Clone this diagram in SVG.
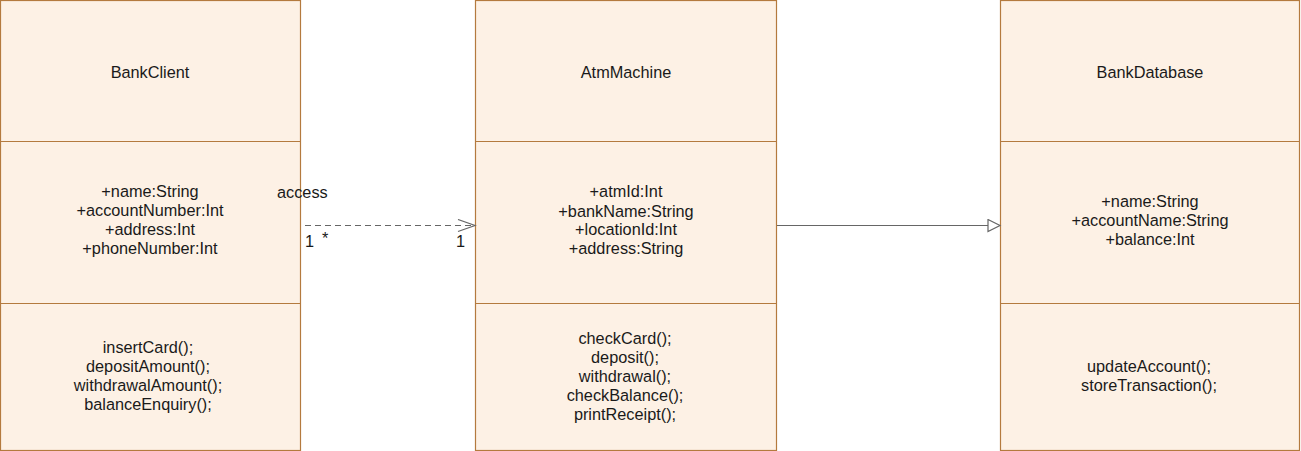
<svg xmlns="http://www.w3.org/2000/svg" width="1301" height="451" viewBox="0 0 1301 451">
<style>
.box{fill:#fdf1e5;stroke:#b47a3e;stroke-width:1.2}
.div{stroke:#b47a3e;stroke-width:1.2}
text{font-family:"Liberation Sans",Arial,sans-serif;font-size:16.3px;fill:#1a1a1a}
.c{text-anchor:middle}
.ln{stroke:#666;stroke-width:1.2;fill:none}
</style>
<defs>
<marker id="open" markerWidth="20" markerHeight="14" refX="18" refY="7" orient="auto" markerUnits="userSpaceOnUse">
<path d="M1,1 L18,7 L1,13" fill="none" stroke="#666" stroke-width="1.2"/>
</marker>
<marker id="tri" markerWidth="16" markerHeight="16" refX="13" refY="7" orient="auto" markerUnits="userSpaceOnUse">
<path d="M1,1 L13,7 L1,13 Z" fill="#fff" stroke="#666" stroke-width="1.2"/>
</marker>
</defs>
<rect width="1301" height="451" fill="#fff"/>
<g id="BankClient">
<rect class="box" x="0.5" y="0.5" width="300" height="450"/>
<line class="div" x1="0.5" y1="141.5" x2="300.5" y2="141.5"/>
<line class="div" x1="0.5" y1="303.5" x2="300.5" y2="303.5"/>
<text class="c" x="150" y="78">BankClient</text>
<text class="c" x="150" y="197">+name:String</text>
<text class="c" x="150" y="216">+accountNumber:Int</text>
<text class="c" x="150" y="235">+address:Int</text>
<text class="c" x="150" y="254">+phoneNumber:Int</text>
<text class="c" x="148" y="353">insertCard();</text>
<text class="c" x="148" y="372">depositAmount();</text>
<text class="c" x="148" y="391">withdrawalAmount();</text>
<text class="c" x="148" y="410">balanceEnquiry();</text>
</g>
<g id="AtmMachine">
<rect class="box" x="475.5" y="0.5" width="301" height="450"/>
<line class="div" x1="475.5" y1="141.5" x2="776.5" y2="141.5"/>
<line class="div" x1="475.5" y1="303.5" x2="776.5" y2="303.5"/>
<text class="c" x="626" y="78">AtmMachine</text>
<text class="c" x="626" y="197">+atmId:Int</text>
<text class="c" x="626" y="217">+bankName:String</text>
<text class="c" x="626" y="235">+locationId:Int</text>
<text class="c" x="626" y="254">+address:String</text>
<text class="c" x="625" y="344">checkCard();</text>
<text class="c" x="625" y="363">deposit();</text>
<text class="c" x="625" y="382">withdrawal();</text>
<text class="c" x="625" y="401">checkBalance();</text>
<text class="c" x="625" y="420">printReceipt();</text>
</g>
<g id="BankDatabase">
<rect class="box" x="1000.5" y="0.5" width="299" height="450"/>
<line class="div" x1="1000.5" y1="141.5" x2="1299.5" y2="141.5"/>
<line class="div" x1="1000.5" y1="303.5" x2="1299.5" y2="303.5"/>
<text class="c" x="1150" y="78">BankDatabase</text>
<text class="c" x="1150" y="207">+name:String</text>
<text class="c" x="1150" y="226">+accountName:String</text>
<text class="c" x="1150" y="245">+balance:Int</text>
<text class="c" x="1149" y="372">updateAccount();</text>
<text class="c" x="1149" y="391">storeTransaction();</text>
</g>
<g id="connectors">
<line class="ln" x1="305" y1="225.5" x2="475" y2="225.5" stroke-dasharray="6,4" marker-end="url(#open)"/>
<text x="277" y="198">access</text>
<text x="305" y="247">1</text>
<text x="322" y="244">*</text>
<text x="456" y="247">1</text>
<line class="ln" x1="777" y1="225.5" x2="1000" y2="225.5" marker-end="url(#tri)"/>
</g>
</svg>
